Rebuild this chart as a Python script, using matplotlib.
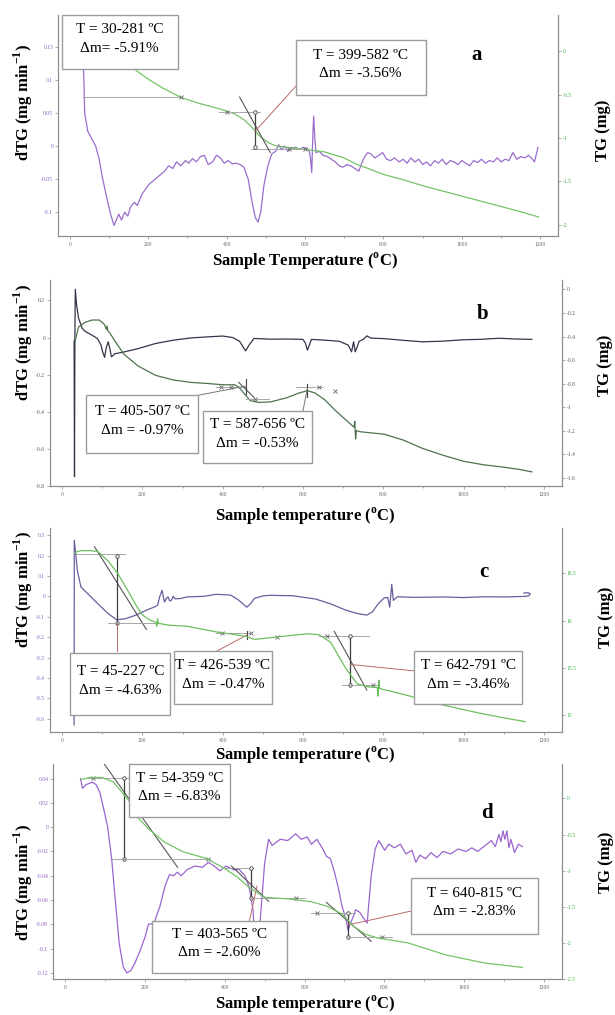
import matplotlib
matplotlib.use('Agg')
import matplotlib.pyplot as plt
from matplotlib.patches import Rectangle
from matplotlib.ticker import MultipleLocator, FuncFormatter

plt.rcParams['font.family'] = ['Liberation Serif', 'DejaVu Serif']
plt.rcParams['mathtext.fontset'] = 'custom'
plt.rcParams['mathtext.rm'] = 'Liberation Serif'
plt.rcParams['mathtext.bf'] = 'Liberation Serif:bold'
plt.rcParams['axes.unicode_minus'] = False

# ---------------- data ----------------
# panel a
a_dtg_T = [31, 33, 36, 38, 46, 55, 66, 75, 83, 95,
           105, 113, 120, 125, 132, 140, 148, 155, 165, 172,
           185, 202, 222, 242, 252, 263, 272, 283, 295, 303,
           313, 323, 333, 343, 353, 364, 374, 384, 394, 404,
           414, 424, 434, 444, 455, 465, 473, 480, 487, 495,
           505, 515, 525, 533, 540, 548, 556, 566, 576, 586,
           596, 606, 611, 614, 617, 620, 622, 625, 628, 636,
           646, 657, 667, 677, 687, 697, 707, 717, 727, 737,
           745, 752, 760, 768, 778, 788, 798, 808, 818, 828,
           840, 850, 860, 870, 880, 890, 900, 910, 920, 930,
           940, 950, 960, 970, 980, 990, 1000, 1010, 1020, 1030,
           1040, 1050, 1060, 1070, 1080, 1090, 1100, 1110, 1120, 1130,
           1140, 1150, 1160, 1170, 1180, 1185, 1190, 1194]
a_dtg = [0.20, 0.15, 0.10, 0.05, 0.022, 0.012, 0.0, -0.02, -0.047, -0.08,
         -0.105, -0.12, -0.11, -0.103, -0.112, -0.100, -0.106, -0.092, -0.085, -0.09,
         -0.072, -0.058, -0.048, -0.038, -0.03, -0.034, -0.024, -0.03, -0.022, -0.026,
         -0.019, -0.024, -0.016, -0.014, -0.028, -0.024, -0.014, -0.018, -0.026, -0.022,
         -0.027, -0.026, -0.028, -0.032, -0.05, -0.085, -0.108, -0.115, -0.1, -0.06,
         -0.03, -0.012, -0.008, 0.002, -0.006, 0.0, -0.008, -0.003, -0.002, -0.005,
         -0.002, -0.004, -0.008, -0.02, -0.04, 0.02, 0.045, 0.01, -0.01, -0.008,
         -0.014, -0.016, -0.02, -0.024, -0.03, -0.032, -0.028, -0.03, -0.034, -0.038,
         -0.025, -0.016, -0.01, -0.012, -0.018, -0.014, -0.01, -0.02, -0.022, -0.018,
         -0.024, -0.02, -0.026, -0.018, -0.024, -0.02, -0.028, -0.024, -0.03, -0.022,
         -0.026, -0.02, -0.028, -0.022, -0.024, -0.028, -0.022, -0.026, -0.03, -0.022,
         -0.025, -0.02, -0.026, -0.022, -0.024, -0.018, -0.024, -0.02, -0.022, -0.01,
         -0.02, -0.016, -0.018, -0.014, -0.02, -0.024, -0.012, -0.002]
a_tg_T = [30, 60, 100, 130, 160, 200, 240, 283, 330, 380, 420, 445, 465, 485, 505, 525,
          560, 600, 650, 700, 730, 760, 800, 850, 900, 950, 1000, 1050, 1100, 1150, 1195]
a_tg = [0.40, 0.28, 0.08, -0.06, -0.19, -0.32, -0.43, -0.53, -0.6, -0.66, -0.72, -0.79,
        -0.88, -0.98, -1.05, -1.09, -1.11, -1.13, -1.16, -1.23, -1.3, -1.35, -1.42, -1.48,
        -1.55, -1.61, -1.67, -1.73, -1.79, -1.85, -1.91]

# panel b
b_dtg_T = [30, 31, 32, 33, 36, 41, 50, 57, 75, 88,
           97, 101, 106, 110, 115, 119, 123, 132, 154, 189,
           233, 278, 322, 366, 400, 425, 442, 457, 466, 478,
           520, 560, 600, 606, 611, 616, 621, 660, 690, 712,
           716, 721, 726, 730, 735, 740, 750, 759, 769, 802,
           850, 897, 945, 1000, 1040, 1088, 1130, 1170]
b_dtg = [-0.02, -0.75, 0.0, 0.26, 0.18, 0.105, 0.05, 0.034, 0.012, -0.005,
         -0.04, -0.077, -0.107, -0.055, -0.023, -0.06, -0.104, -0.087, -0.078, -0.06,
         -0.032, -0.014, -0.002, 0.004, 0.008, 0.0, -0.02, -0.072, -0.04, -0.005,
         -0.009, -0.008, -0.01, -0.03, -0.068, -0.04, -0.01, -0.015, -0.02, -0.04,
         -0.054, -0.077, -0.023, -0.077, -0.05, -0.02, -0.01, 0.009, -0.003, -0.006,
         -0.015, -0.023, -0.02, -0.012, -0.01, -0.004, -0.008, -0.01]
b_tg_T = [33, 41, 57, 75, 93, 106, 110, 112, 114, 119,
          132, 154, 189, 233, 278, 322, 366, 400, 430, 440,
          455, 469, 490, 520, 560, 590, 611, 630, 655, 678,
          707, 727, 729, 731, 733, 745, 802, 850, 897, 950,
          1000, 1050, 1100, 1140, 1170]
b_tg = [-0.43, -0.32, -0.28, -0.26, -0.26, -0.30, -0.34, -0.31, -0.35, -0.37,
        -0.44, -0.55, -0.65, -0.73, -0.77, -0.79, -0.80, -0.81, -0.81, -0.83,
        -0.89, -0.945, -0.96, -0.955, -0.92, -0.88, -0.86, -0.88, -0.94, -1.02,
        -1.11, -1.17, -1.12, -1.27, -1.2, -1.21, -1.23, -1.28, -1.35, -1.41,
        -1.46, -1.49, -1.51, -1.53, -1.55]

# panel c
c_dtg_T = [30, 30.5, 34, 38, 47, 64, 89, 115, 136, 157,
           183, 209, 230, 238, 243, 249, 255, 260, 264, 268,
           272, 277, 281, 294, 311, 353, 384, 420, 441, 452,
           460, 470, 479, 500, 517, 574, 631, 669, 707, 735,
           759, 773, 787, 802, 811, 816, 821, 825, 835, 880,
           950, 1000, 1050, 1100, 1140, 1155, 1163, 1166, 1160, 1150]
c_dtg = [-0.63, 0.275, 0.21, 0.128, 0.046, 0.013, -0.036, -0.085, -0.115, -0.11,
         -0.093, -0.069, -0.052, -0.044, -0.003, 0.03, -0.028, -0.01, -0.003, -0.022,
         -0.02, 0.0, -0.012, -0.011, -0.003, 0.0, 0.01, 0.006, -0.02, -0.04,
         -0.053, -0.035, -0.01, 0.002, 0.005, 0.003, -0.013, -0.037, -0.068, -0.084,
         -0.092, -0.076, -0.037, -0.008, -0.005, -0.053, 0.059, -0.02, -0.002, -0.005,
         -0.003, -0.006, -0.002, -0.003, -0.001, 0.0, 0.004, 0.012, 0.018, 0.016]
c_tg_T = [31, 47, 72, 89, 115, 140, 166, 183, 200, 217,
          234, 236, 238, 240, 268, 311, 384, 432, 460, 480,
          500, 565, 612, 640, 669, 707, 735, 760, 785, 787,
          789, 791, 849, 944, 1039, 1100, 1153]
c_tg = [16.72, 16.74, 16.74, 16.73, 16.63, 16.49, 16.30, 16.17, 16.06, 16.01,
        15.98, 15.94, 16.02, 15.97, 15.95, 15.94, 15.88, 15.85, 15.83, 15.80,
        15.81, 15.84, 15.86, 15.85, 15.77, 15.49, 15.33, 15.30, 15.29, 15.20,
        15.37, 15.28, 15.22, 15.11, 15.02, 14.97, 14.93]

# panel d
d_dtg_T = [39, 44, 53, 68, 78, 87, 97, 107, 117, 126,
           136, 146, 155, 165, 175, 189, 201, 209, 223, 238,
           252, 262, 272, 282, 291, 306, 325, 345, 359, 374,
           388, 403, 422, 437, 451, 461, 471, 476, 481, 487,
           493, 500, 510, 519, 539, 558, 578, 592, 607, 617,
           631, 646, 655, 665, 675, 684, 694, 704, 709, 714,
           723, 728, 738, 748, 757, 767, 777, 786, 801, 811,
           825, 840, 854, 869, 879, 889, 903, 917, 932, 947,
           966, 985, 1005, 1019, 1034, 1053, 1068, 1078, 1087, 1092,
           1097, 1102, 1107, 1112, 1117, 1126, 1136, 1146]
d_dtg = [0.04, 0.032, 0.035, 0.037, 0.035, 0.029, 0.015, 0.0, -0.026, -0.06,
         -0.096, -0.115, -0.12, -0.118, -0.112, -0.101, -0.09, -0.08, -0.079, -0.065,
         -0.047, -0.039, -0.04, -0.037, -0.04, -0.035, -0.032, -0.033, -0.029, -0.032,
         -0.036, -0.032, -0.035, -0.035, -0.04, -0.049, -0.068, -0.095, -0.098, -0.085,
         -0.06, -0.03, -0.01, -0.015, -0.01, -0.011, -0.0055, -0.01, -0.008, -0.014,
         -0.01, -0.018, -0.024, -0.026, -0.037, -0.049, -0.065, -0.076, -0.085, -0.08,
         -0.073, -0.068, -0.07, -0.075, -0.079, -0.04, -0.018, -0.011, -0.019, -0.014,
         -0.017, -0.014, -0.022, -0.019, -0.029, -0.023, -0.026, -0.021, -0.025, -0.02,
         -0.022, -0.018, -0.02, -0.017, -0.02, -0.015, -0.011, -0.016, -0.006, -0.012,
         -0.003, -0.01, -0.003, -0.017, -0.01, -0.021, -0.014, -0.016]
d_tg_T = [39, 63, 92, 121, 160, 180, 209, 248, 296, 354,
          403, 432, 461, 500, 558, 617, 655, 694, 723, 752,
          782, 859, 956, 1053, 1146]
d_tg = [0.26, 0.29, 0.29, 0.23, -0.03, -0.25, -0.42, -0.6, -0.74, -0.83,
        -0.98, -1.09, -1.23, -1.37, -1.39, -1.43, -1.49, -1.6, -1.77, -1.88,
        -1.93, -2.0, -2.17, -2.28, -2.34]

a_boxes = [["T = 30-281 ºC", "Δm= -5.91%"], ["T = 399-582 ºC", "Δm = -3.56%"]]
b_boxes = [["T = 405-507 ºC", "Δm = -0.97%"], ["T = 587-656 ºC", "Δm = -0.53%"]]
c_boxes = [["T = 45-227 ºC", "Δm = -4.63%"], ["T = 426-539 ºC", "Δm = -0.47%"],
           ["T = 642-791 ºC", "Δm = -3.46%"]]
d_boxes = [["T = 54-359 ºC", "Δm = -6.83%"], ["T = 403-565 ºC", "Δm = -2.60%"],
           ["T = 640-815 ºC", "Δm = -2.83%"]]

# ---------------- drawing ----------------
W, H = 615, 1015
fig = plt.figure(figsize=(6.15, 10.15), dpi=100)
XLIM = (-30, 1245)
GREEN = '#74c465'
PURPLE = '#9a6ccd'
GRAY = '#a8a8a8'
DARK = '#404040'
RED = '#b86a6a'


def rect(l, r, t, b):
    return [l / W, 1 - b / H, (r - l) / W, (b - t) / H]


def fmt(v, p):
    if abs(v) < 1e-9:
        return '0'
    return '%g' % round(v, 4)


def panel(r, ylim_l, ylim_r, lstep, rstep, lcol, rcol):
    ax = fig.add_axes(r)
    ax2 = ax.twinx()
    ax.set_xlim(*XLIM)
    ax.set_ylim(*ylim_l)
    ax2.set_ylim(*ylim_r)
    for a in (ax, ax2):
        a.spines['top'].set_visible(False)
        for s in ('left', 'right', 'bottom'):
            a.spines[s].set_color('#8c8c8c')
            a.spines[s].set_linewidth(0.8)
    ax.xaxis.set_major_locator(MultipleLocator(200))
    ax.xaxis.set_minor_locator(MultipleLocator(100))
    ax.tick_params(axis='x', which='both', labelsize=4, color='#8c8c8c',
                   labelcolor='#666666', length=2, width=0.5, pad=2)
    ax.tick_params(axis='x', which='minor', length=1.2)
    ax.yaxis.set_major_locator(MultipleLocator(lstep))
    ax2.yaxis.set_major_locator(MultipleLocator(rstep))
    ax.tick_params(axis='y', labelsize=4, length=2, width=0.5, pad=1.5,
                   color='#8c8c8c', labelcolor=lcol)
    ax2.tick_params(axis='y', labelsize=4, length=2, width=0.5, pad=1.5,
                    color='#8c8c8c', labelcolor=rcol)
    ax.yaxis.set_major_formatter(FuncFormatter(fmt))
    ax2.yaxis.set_major_formatter(FuncFormatter(fmt))
    return ax, ax2


def box(ax, x0, x1, y0, y1, lines):
    ax.add_patch(Rectangle((x0, y0), x1 - x0, y1 - y0, transform=ax.transAxes,
                           fc='white', ec='#9c9c9c', lw=1.0, zorder=20, clip_on=False))
    ax.text((x0 + x1) / 2, (y0 + y1) / 2 + 0.015, '\n'.join(lines), transform=ax.transAxes,
            ha='center', va='center', fontsize=11, linespacing=1.55, zorder=21)


xlab_text = {'a': r'Sample Temperature ($^{\mathbf{o}}$C)',
             'b': r'Sample temperature ($^{\mathbf{o}}$C)',
             'c': r'Sample temperature ($^{\mathbf{o}}$C)',
             'd': r'Sample temperature ($^{\mathbf{o}}$C)'}


def labels(ylab_y, tg_x, tg_y, xlab_y, ax, letter, lx, ly):
    fig.text(23 / W, 1 - ylab_y / H, r'dTG (mg min$^{\mathbf{-1}}$)', rotation=90,
             ha='center', va='center', fontsize=12, fontweight='bold')
    fig.text(tg_x / W, 1 - tg_y / H, 'TG (mg)', rotation=90,
             ha='center', va='center', fontsize=12, fontweight='bold')
    fig.text(305 / W, 1 - xlab_y / H, xlab_text[letter], ha='center', va='center',
             fontsize=12, fontweight='bold')
    ax.text(lx, ly, letter, transform=ax.transAxes, ha='center', va='center',
            fontsize=15, fontweight='bold', zorder=22)


def seg(a, xs, ys, color=GRAY, lw=0.7, marker=None):
    a.plot(xs, ys, color=color, lw=lw, marker=marker, ms=2.5, mfc='white',
           mew=0.6, zorder=6)


# ---- panel a ----
ax, ax2 = panel(rect(58, 558, 15, 236), (-0.136, 0.198), (-2.13, 0.42), 0.05, 0.5,
                '#8a5cc0', '#3cb043')
ax.plot(a_dtg_T, a_dtg, color=PURPLE, lw=0.9)
ax2.plot(a_tg_T, a_tg, color=GREEN, lw=0.9)
seg(ax2, [35, 283], [-0.526, -0.526])
seg(ax2, [381, 486], [-0.695, -0.695])
seg(ax2, [461, 601], [-1.128, -1.128])
seg(ax2, [433, 511], [-0.526, -1.165], color='#555555', lw=0.8)
seg(ax2, [473, 473], [-0.695, -1.10], color=DARK, lw=0.9, marker='o')
seg(ax2, [473, 577], [-0.92, -0.40], color=RED, lw=0.7)
ax2.plot([283, 400, 560, 600], [-0.526, -0.695, -1.128, -1.128], 'x', color='#666666',
         ms=3, mew=0.6, zorder=7)
box(ax2, 0.008, 0.239, 0.755, 1.0, a_boxes[0])
box(ax2, 0.476, 0.735, 0.638, 0.885, a_boxes[1])
labels(103, 603, 130, 261, ax2, 'a', 0.838, 0.82)

# ---- panel b ----
ax, ax2 = panel(rect(50, 562, 280, 486), (-0.80, 0.31), (-1.67, 0.08), 0.2, 0.2,
                '#555555', '#555555')
ax.plot(b_dtg_T, b_dtg, color='#35354a', lw=0.9)
ax2.plot(b_tg_T, b_tg, color='#4e734e', lw=0.9)
seg(ax2, [383, 459], [-0.826, -0.826])
seg(ax2, [440, 478], [-0.79, -0.917], color='#555555', lw=0.8)
seg(ax2, [459, 459], [-0.76, -0.89], color=DARK, lw=0.8)
seg(ax2, [459, 516], [-0.93, -0.93])
seg(ax2, [583, 650], [-0.832, -0.832])
seg(ax2, [611, 611], [-0.80, -0.91], color=DARK, lw=0.8)
seg(ax2, [338, 459], [-0.90, -0.82], color='#777777', lw=0.7)
seg(ax2, [600, 611], [-1.03, -0.84], color='#777777', lw=0.7)
ax2.plot([397, 421, 480, 640, 680], [-0.826, -0.826, -0.93, -0.832, -0.86], 'x',
         color='#666666', ms=3, mew=0.6, zorder=7)
box(ax2, 0.071, 0.289, 0.16, 0.44, b_boxes[0])
box(ax2, 0.299, 0.512, 0.111, 0.363, b_boxes[1])
labels(343, 605, 365, 516, ax2, 'b', 0.845, 0.835)

# ---- panel c ----
ax, ax2 = panel(rect(50, 562, 528, 732), (-0.665, 0.335), (14.82, 16.98), 0.1, 0.5,
                '#8a5cc0', '#3cb043')
ax.plot(c_dtg_T, c_dtg, color='#6a5e9e', lw=0.9)
ax2.plot(c_tg_T, c_tg, color='#6cbf5c', lw=0.9)
seg(ax, [34, 156], [0.21, 0.21])
seg(ax, [81, 210], [0.243, -0.162], color='#555555', lw=0.8)
seg(ax, [136, 136], [0.2, -0.131], color=DARK, lw=0.9, marker='o')
seg(ax, [115, 243], [-0.131, -0.131])
seg(ax, [136, 136], [-0.131, -0.27], color=RED, lw=0.7)
seg(ax, [384, 470], [-0.18, -0.18])
seg(ax, [460, 460], [-0.17, -0.21], color=DARK, lw=0.8)
seg(ax, [384, 460], [-0.27, -0.19], color=RED, lw=0.7)
seg(ax, [640, 764], [-0.193, -0.193])
seg(ax, [678, 759], [-0.172, -0.459], color='#555555', lw=0.8)
seg(ax, [718, 718], [-0.193, -0.436], color=DARK, lw=0.9, marker='o')
seg(ax, [697, 787], [-0.436, -0.436])
seg(ax, [718, 880], [-0.334, -0.366], color=RED, lw=0.7)
ax.plot([398, 470, 536, 660, 775], [-0.18, -0.18, -0.2, -0.193, -0.436], 'x',
        color='#666666', ms=3, mew=0.6, zorder=7)
box(ax2, 0.04, 0.235, 0.085, 0.385, c_boxes[0])
box(ax2, 0.242, 0.433, 0.135, 0.395, c_boxes[1])
box(ax2, 0.711, 0.922, 0.135, 0.395, c_boxes[2])
labels(590, 606, 617, 755, ax2, 'c', 0.847, 0.783)

# ---- panel d ----
ax, ax2 = panel(rect(53, 562, 764, 979), (-0.125, 0.052), (-2.5, 0.477), 0.02, 0.5,
                '#8a5cc0', '#3cb043')
ax.plot(d_dtg_T, d_dtg, color='#9b64d0', lw=0.9)
ax2.plot(d_tg_T, d_tg, color=GREEN, lw=0.9)
seg(ax, [49, 160], [0.0402, 0.0402])
seg(ax, [94, 282], [0.054, -0.033], color='#555555', lw=0.8)
seg(ax, [149, 149], [0.0402, -0.0264], color=DARK, lw=0.9, marker='o')
seg(ax, [114, 364], [-0.0264, -0.0264])
seg(ax, [393, 471], [-0.0333, -0.0333])
seg(ax, [417, 510], [-0.032, -0.061], color='#555555', lw=0.8)
seg(ax, [466, 466], [-0.0333, -0.0583], color=DARK, lw=0.9, marker='o')
seg(ax, [466, 600], [-0.058, -0.058])
seg(ax, [461, 481], [-0.0786, -0.0485], color=RED, lw=0.7)
seg(ax, [617, 726], [-0.0707, -0.0707])
seg(ax, [655, 767], [-0.062, -0.094], color='#555555', lw=0.8)
seg(ax, [709, 709], [-0.0707, -0.0907], color=DARK, lw=0.9, marker='o')
seg(ax, [709, 820], [-0.0907, -0.0907])
seg(ax, [709, 868], [-0.0805, -0.069], color=RED, lw=0.7)
ax.plot([70, 359, 578, 631, 795], [0.0402, -0.0264, -0.058, -0.0707, -0.0907], 'x',
        color='#666666', ms=3, mew=0.6, zorder=7)
box(ax2, 0.15, 0.347, 0.753, 1.0, d_boxes[0])
box(ax2, 0.195, 0.459, 0.03, 0.27, d_boxes[1])
box(ax2, 0.704, 0.952, 0.21, 0.47, d_boxes[2])
labels(883, 606, 862, 1004, ax2, 'd', 0.853, 0.77)

fig.savefig('out.png', dpi=100)
